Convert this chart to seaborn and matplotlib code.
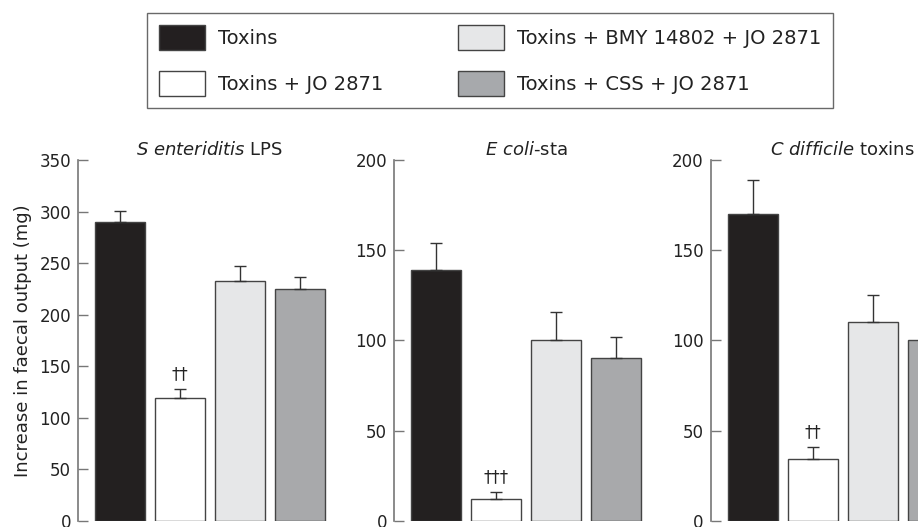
import numpy as np
import pandas as pd
import seaborn as sns
import matplotlib.pyplot as plt
from matplotlib.patches import Patch

sns.set_style("white")
plt.rcParams['font.family'] = ['DejaVu Sans']

# treatments and colours
treatments = ["Toxins", "Toxins + JO 2871", "Toxins + BMY 14802 + JO 2871", "Toxins + CSS + JO 2871"]
colors = ["#231f20", "#ffffff", "#e6e7e8", "#a7a9ac"]

# panel data (mean, upper error)
titles = [r"$\it{S\ enteriditis}$ LPS", r"$\it{E\ coli}$-sta", r"$\it{C\ difficile}$ toxins"]
salmonella_vals = [290, 119, 233, 225]
salmonella_err = [11, 9, 14, 12]
ecoli_vals = [139, 12, 100, 90]
ecoli_err = [15, 4, 16, 12]
cdiff_vals = [170, 34, 110, 100]
cdiff_err = [19, 7, 15, 12]
ymaxes = [350, 200, 200]
ysteps = [50, 50, 50]
marks = ["††", "†††", "††"]

panels = [(salmonella_vals, salmonella_err), (ecoli_vals, ecoli_err), (cdiff_vals, cdiff_err)]

W, H = 918, 527
fig = plt.figure(figsize=(W / 100, H / 100), dpi=100)

axis_px = [78, 394, 710.7]
ax_w = 264
ax_bottom = 520.7
ax_top = 160.2

for i, (vals, errs) in enumerate(panels):
    ax = fig.add_axes([axis_px[i] / W, (H - ax_bottom) / H, ax_w / W, (ax_bottom - ax_top) / H])
    df = pd.DataFrame({"treatment": treatments, "value": vals})
    sns.barplot(data=df, x="treatment", y="value", hue="treatment", palette=colors,
                order=treatments, hue_order=treatments, dodge=False, legend=False,
                width=0.833, edgecolor="#444444", linewidth=1.0, ax=ax)
    ax.errorbar(np.arange(4), vals, yerr=[np.zeros(4), errs], fmt="none",
                ecolor="#333333", elinewidth=1.0, capsize=4.5, capthick=1.0, zorder=1)
    ax.set_xlim(-0.7, 3.7)
    ax.set_ylim(0, ymaxes[i])
    ax.set_yticks(np.arange(0, ymaxes[i] + 1, ysteps[i]))
    ax.set_xticks([])
    ax.set_xlabel("")
    ax.set_ylabel("")
    for s in ["top", "right", "bottom"]:
        ax.spines[s].set_visible(False)
    ax.spines["left"].set_color("#777777")
    ax.spines["left"].set_linewidth(1.2)
    ax.tick_params(axis="y", direction="in", length=7, width=1.0, color="#777777",
                   labelsize=12, pad=5, labelcolor="#222222", left=True)
    ax.set_title(titles[i], fontsize=13, pad=4, color="#222222")
    ax.annotate(marks[i], xy=(1, vals[1] + errs[1]), xytext=(0, 4), textcoords="offset points",
                ha="center", va="bottom", fontsize=12, color="#222222")
    ax.patch.set_alpha(0)
    if i == 0:
        ax.set_ylabel("Increase in faecal output (mg)", fontsize=13, color="#222222", labelpad=5)

handles = [Patch(facecolor=c, edgecolor="#444444", linewidth=1.0, label=t) for t, c in zip(treatments, colors)]
leg = fig.legend(handles=handles, loc="center", bbox_to_anchor=(490 / W, 1 - 60.5 / H), ncol=2,
                 fontsize=14, frameon=True, fancybox=False, edgecolor="#444444",
                 handlelength=2.37, handleheight=1.65, handletextpad=0.67, columnspacing=3.87,
                 labelspacing=1.05, borderpad=0.6, borderaxespad=0)
leg.get_frame().set_linewidth(1.0)
for t in leg.get_texts():
    t.set_color("#222222")

fig.savefig("out.png", dpi=100)
